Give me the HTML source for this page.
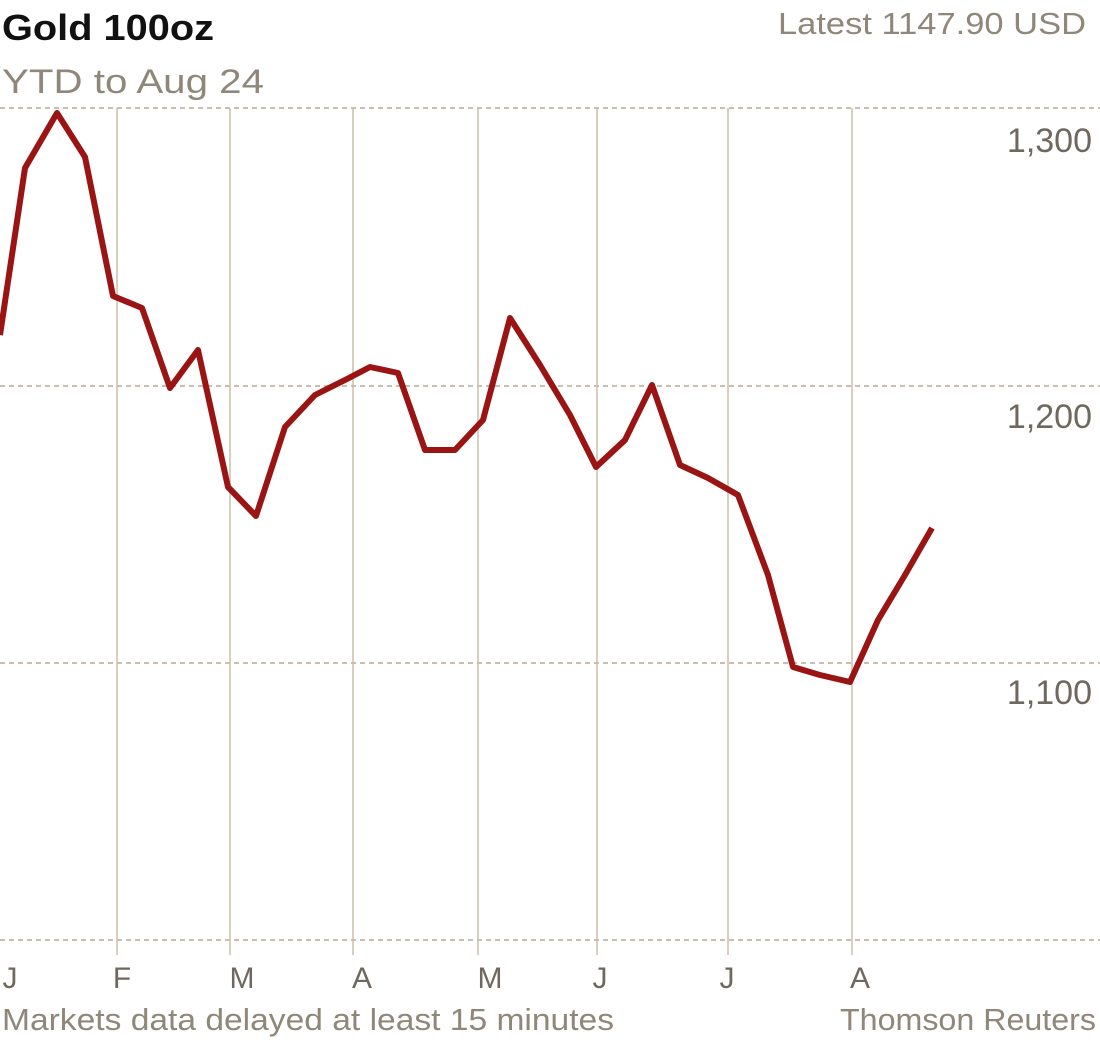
<!DOCTYPE html>
<html><head><meta charset="utf-8"><style>
html,body{margin:0;padding:0;background:#fff;width:1100px;height:1048px;overflow:hidden}
text{font-family:"Liberation Sans",sans-serif}
</style></head><body>
<svg width="1100" height="1048" viewBox="0 0 1100 1048" xmlns="http://www.w3.org/2000/svg">
<text x="2" y="40" font-size="36" font-weight="bold" fill="#111" textLength="212" lengthAdjust="spacingAndGlyphs">Gold 100oz</text>
<text x="778" y="34" font-size="31" fill="#8f877a" textLength="308" lengthAdjust="spacingAndGlyphs">Latest 1147.90 USD</text>
<text x="2" y="93" font-size="34" fill="#8f877a" textLength="262" lengthAdjust="spacingAndGlyphs">YTD to Aug 24</text>
<g stroke="#d9cfbf" stroke-width="2">
<line x1="117" y1="108" x2="117" y2="955"/><line x1="230" y1="108" x2="230" y2="955"/>
<line x1="353" y1="108" x2="353" y2="955"/><line x1="478" y1="108" x2="478" y2="955"/>
<line x1="597" y1="108" x2="597" y2="955"/><line x1="728" y1="108" x2="728" y2="955"/>
<line x1="852" y1="108" x2="852" y2="955"/>
</g>
<g stroke="#c9bfae" stroke-width="2" stroke-dasharray="5,4">
<line x1="0" y1="108" x2="1100" y2="108"/><line x1="0" y1="386" x2="1100" y2="386"/>
<line x1="0" y1="663" x2="1100" y2="663"/><line x1="0" y1="940" x2="1100" y2="940"/>
</g>
<g font-size="34" fill="#6f685e" text-anchor="end">
<text x="1092" y="152">1,300</text><text x="1092" y="428">1,200</text><text x="1092" y="704">1,100</text>
</g>
<g font-size="30" fill="#6f685e" text-anchor="middle">
<text x="10" y="988">J</text><text x="122" y="988">F</text><text x="242" y="988">M</text>
<text x="362" y="988">A</text><text x="490" y="988">M</text><text x="600" y="988">J</text>
<text x="727" y="988">J</text><text x="860" y="988">A</text>
</g>
<text x="2" y="1030" font-size="31" fill="#8f877a" textLength="612" lengthAdjust="spacingAndGlyphs">Markets data delayed at least 15 minutes</text>
<text x="1096" y="1030" font-size="31" fill="#8f877a" text-anchor="end" textLength="256" lengthAdjust="spacingAndGlyphs">Thomson Reuters</text>
<polyline fill="none" stroke="#9a1414" stroke-width="6" stroke-linejoin="round" points="0,335 25,168 57,113 85,157 113,296 142,308 170,388 198,350 228,487 256,516 285,427 315,395 345,380 370,367 398,373 425,450 455,450 483,420 510,318 540,365 570,415 596,467 625,440 652,385 680,465 708,478 738,495 768,575 793,667 820,675 850,682 878,620 905,575 932,528"/>
</svg>
</body></html>
